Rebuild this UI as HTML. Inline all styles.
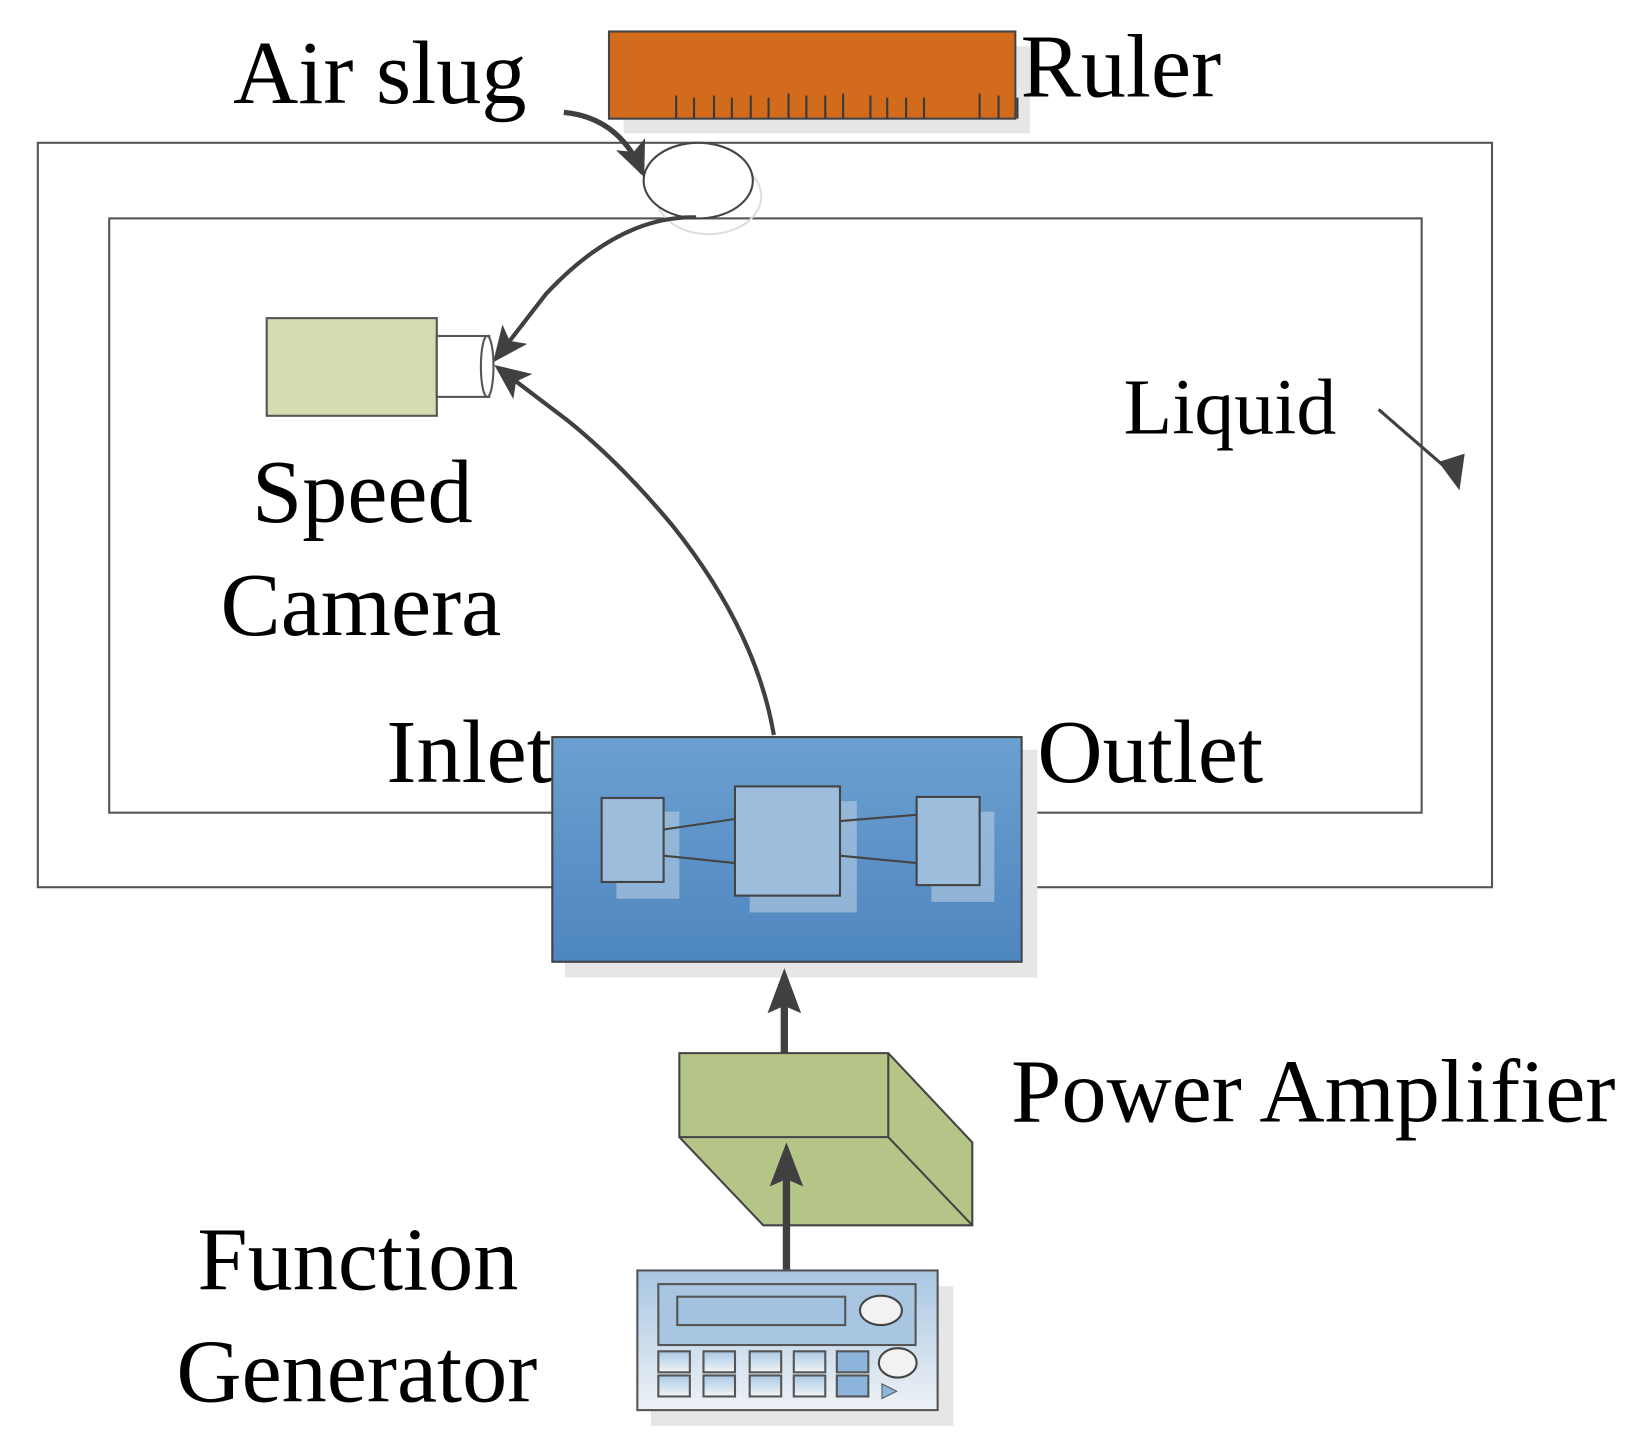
<!DOCTYPE html>
<html><head><style>html,body{margin:0;padding:0;background:#fff}svg{display:block}</style></head>
<body>
<svg width="1647" height="1454" viewBox="0 0 1568.6 1384.8" xmlns="http://www.w3.org/2000/svg" font-family="'Liberation Serif',serif">
<defs>
<linearGradient id="bl" x1="0" y1="0" x2="0" y2="1"><stop offset="0" stop-color="#6BA0D0"/><stop offset="1" stop-color="#4E86BF"/></linearGradient>
<linearGradient id="fg" x1="0" y1="0" x2="0" y2="1"><stop offset="0" stop-color="#A8C6E2"/><stop offset="1" stop-color="#EEF2F6"/></linearGradient>
<linearGradient id="key" x1="0" y1="0" x2="0" y2="1"><stop offset="0" stop-color="#A9C8E4"/><stop offset="1" stop-color="#F2F5F8"/></linearGradient>
<marker id="ah" markerWidth="34" markerHeight="30" refX="30" refY="15" orient="auto" markerUnits="userSpaceOnUse" viewBox="0 0 34 30"><path d="M0,0 L34,15 L0,30 L8,15 Z" fill="#404040"/></marker>
</defs>
<rect x="36" y="136" width="1385" height="709" fill="none" stroke="#555" stroke-width="2"/>
<rect x="104" y="208" width="1250" height="566" fill="none" stroke="#555" stroke-width="2"/>
<rect x="594" y="44" width="387" height="83" fill="#e6e6e6"/>
<rect x="580" y="30" width="387" height="83" fill="#D26C1C" stroke="#444" stroke-width="2"/>
<g stroke="#3a3a3a" stroke-width="2">
<path d="M644,113v-22M661,113v-20M680,113v-22M697,113v-20M715,113v-22M732,113v-20M751,113v-24M768,113v-22M786,113v-22M803,113v-24M829,113v-22M845,113v-20M863,113v-20M880,113v-20M933,113v-24M951,113v-22M969,113v-20"/>
</g>
<ellipse cx="675" cy="187" rx="50" ry="36" fill="none" stroke="#ddd" stroke-width="2"/>
<ellipse cx="665" cy="172" rx="52" ry="36" fill="#fff" stroke="#444" stroke-width="2"/>
<path d="M537,107 Q590,112 612,165" fill="none" stroke="#404040" stroke-width="5" marker-end="url(#ah)"/>
<path d="M663,207 Q590,205 520,280 L472,342" fill="none" stroke="#404040" stroke-width="4" marker-end="url(#ah)"/>
<rect x="254" y="303" width="162" height="93" fill="#D3DDB0" stroke="#555" stroke-width="2"/>
<rect x="416" y="320" width="50" height="58" fill="#fff" stroke="#555" stroke-width="2"/>
<ellipse cx="464" cy="349" rx="6" ry="29" fill="#fff" stroke="#555" stroke-width="2"/>
<path d="M737,700 Q720,600 640,500 Q590,440 540,400 L474,350" fill="none" stroke="#404040" stroke-width="4" marker-end="url(#ah)"/>
<path d="M1313,390 L1388,455" fill="none" stroke="#404040" stroke-width="3"/>
<path d="M1370,440 L1395,432 L1390,467 Z" fill="#404040"/>
<rect x="538" y="714" width="450" height="217" fill="#e6e6e6"/>
<rect x="526" y="702" width="447" height="214" fill="url(#bl)" stroke="#444" stroke-width="2"/>
<g fill="#b7cde2" opacity="0.6"><rect x="587" y="773" width="60" height="83"/><rect x="714" y="763" width="102" height="106"/><rect x="887" y="773" width="60" height="86"/></g>
<g stroke="#444" stroke-width="2"><path d="M632,790L700,780M632,815L700,822M800,782L873,776M800,815L873,822"/></g>
<g fill="#9DBDDD" stroke="#444" stroke-width="2"><rect x="573" y="760" width="59" height="80"/><rect x="700" y="749" width="100" height="104"/><rect x="873" y="759" width="60" height="84"/></g>
<polygon points="647,1003 846,1003 926,1088 926,1167 727,1167 647,1083" fill="#B5C487" stroke="#444" stroke-width="2"/>
<path d="M647,1083 L846,1083 L926,1167 M846,1003 L846,1083" fill="none" stroke="#444" stroke-width="2"/>
<path d="M747,1003 L747,950" stroke="#404040" stroke-width="7"/>
<path d="M731,965 L747,922 L763,965 L747,958 Z" fill="#404040"/>
<path d="M749,1212 L749,1118" stroke="#404040" stroke-width="7"/>
<path d="M733,1130 L749,1088 L765,1130 L749,1123 Z" fill="#404040"/>
<rect x="620" y="1225" width="288" height="133" fill="#e6e6e6"/>
<rect x="607" y="1210" width="286" height="133" fill="url(#fg)" stroke="#555" stroke-width="2"/>
<rect x="627" y="1223" width="245" height="58" fill="#A8C6E2" stroke="#555" stroke-width="2"/>
<rect x="645" y="1235" width="160" height="27" fill="#A3C2E0" stroke="#555" stroke-width="2"/>
<ellipse cx="839" cy="1248" rx="20" ry="14" fill="#f2f2f2" stroke="#444" stroke-width="2"/>
<g fill="url(#key)" stroke="#555" stroke-width="2">
<rect x="627" y="1287" width="30" height="20"/><rect x="670" y="1287" width="30" height="20"/><rect x="714" y="1287" width="30" height="20"/><rect x="756" y="1287" width="30" height="20"/>
<rect x="627" y="1310" width="30" height="20"/><rect x="670" y="1310" width="30" height="20"/><rect x="714" y="1310" width="30" height="20"/><rect x="756" y="1310" width="30" height="20"/>
</g>
<g fill="#8DB4DA" stroke="#555" stroke-width="2"><rect x="797" y="1287" width="30" height="20"/><rect x="797" y="1310" width="30" height="20"/></g>
<ellipse cx="855" cy="1298" rx="18" ry="14" fill="#f2f2f2" stroke="#444" stroke-width="2"/>
<path d="M840,1318 L854,1325 L840,1332 Z" fill="#8DB4DA" stroke="#555"/>
<g font-size="86" fill="#000">
<text x="222" y="98">Air slug</text>
<text x="972" y="92">Ruler</text>
<text x="240" y="497">Speed</text>
<text x="210" y="605">Camera</text>
<text x="368" y="745">Inlet</text>
<text x="988" y="745">Outlet</text>
<text x="963" y="1068">Power Amplifier</text>
<text x="188" y="1228">Function</text>
<text x="168" y="1335">Generator</text>
</g>
<text x="1070" y="413" font-size="76">Liquid</text>
</svg>
</body></html>
